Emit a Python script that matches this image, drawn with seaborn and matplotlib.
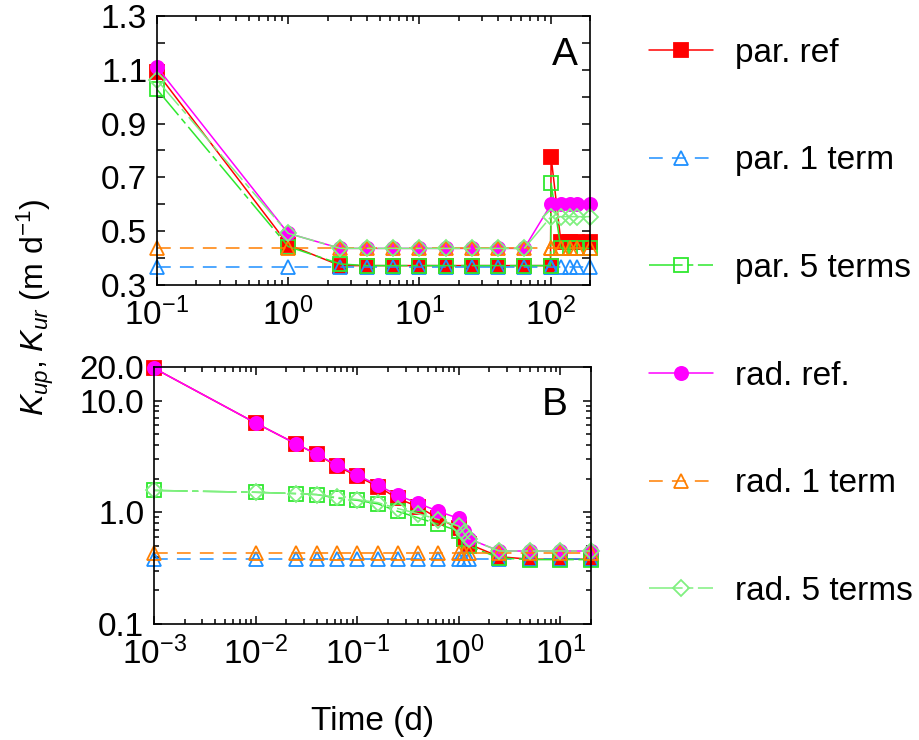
import numpy as np
import matplotlib
matplotlib.use("Agg")
import matplotlib.pyplot as plt
import matplotlib.ticker as mticker
import seaborn as sns

# ---- data ------------------------------------------------------------
# panel A (time in d)
t_a = [0.1, 1, 2.5, 4, 6.3, 10, 16, 25, 40, 63, 100, 101, 120, 140, 160, 200]
par_ref_a = [1.09, 0.45, 0.372, 0.372, 0.372, 0.372, 0.372, 0.372, 0.372, 0.372, 0.372,
             0.777, 0.46, 0.46, 0.46, 0.46]
par_1_a = [0.365] * 16
par_5_a = [1.027, 0.443, 0.378, 0.372, 0.372, 0.372, 0.372, 0.372, 0.372, 0.372, 0.372,
           0.678, 0.436, 0.436, 0.436, 0.436]
rad_ref_a = [1.11, 0.492, 0.436, 0.436, 0.436, 0.436, 0.436, 0.436, 0.436, 0.436, np.nan,
             0.60, 0.60, 0.60, 0.60, 0.60]
rad_1_a = [0.436] * 16
rad_5_a = [1.062, 0.492, 0.436, 0.436, 0.436, 0.436, 0.436, 0.436, 0.436, 0.436, np.nan,
           0.554, 0.554, 0.554, 0.554, 0.554]

# panel B
t_b = [0.001, 0.01, 0.025, 0.04, 0.063, 0.1, 0.16, 0.25, 0.4, 0.63, 1.0, 1.12, 1.25, 2.5, 5, 10, 20]
par_ref_b = [19.5, 6.3, 4.1, 3.3, 2.6, 2.1, 1.7, 1.33, 1.12, 0.88, 0.72, 0.58, 0.52, 0.40, 0.38, 0.38, 0.38]
par_1_b = [0.38] * 17
par_5_b = [1.57, 1.51, 1.47, 1.44, 1.34, 1.28, 1.19, 1.02, 0.89, 0.78, 0.68, 0.58, 0.50, 0.39, 0.377, 0.377, 0.377]
rad_ref_b = [19.5, 6.3, 4.1, 3.3, 2.65, 2.15, 1.75, 1.42, 1.2, 1.02, 0.88, 0.68, 0.58, 0.45, 0.45, 0.45, 0.45]
rad_1_b = [0.43] * 17
rad_5_b = [1.57, 1.51, 1.47, 1.44, 1.36, 1.30, 1.22, 1.08, 0.97, 0.86, 0.75, 0.65, 0.58, 0.45, 0.45, 0.45, 0.45]

labels = ["par. ref", "par. 1 term", "par. 5 terms", "rad. ref.", "rad. 1 term", "rad. 5 terms"]

# ---- styles ------------------------------------------------------------
dashed = (0, (9, 6))
dashdot = (0, (22, 3, 4, 3))
styles = [
    dict(color="#ff0000", marker="s", ls="-", mfc="#ff0000"),
    dict(color="#1e90ff", marker="^", ls=dashed, mfc="none"),
    dict(color="#2ee82e", marker="s", ls=dashdot, mfc="none"),
    dict(color="#ff00ff", marker="o", ls="-", mfc="#ff00ff"),
    dict(color="#ff7f00", marker="^", ls=dashed, mfc="none"),
    dict(color="#80f080", marker="D", ls=dashdot, mfc="none"),
]

sns.set_style("ticks")
plt.rcParams["font.family"] = ["Liberation Sans", "DejaVu Sans"]
plt.rcParams["mathtext.fontset"] = "custom"
plt.rcParams["mathtext.rm"] = "Liberation Sans"
plt.rcParams["mathtext.it"] = "Liberation Sans:italic"
plt.rcParams["axes.unicode_minus"] = False
plt.rcParams["text.color"] = "black"
plt.rcParams["axes.labelcolor"] = "black"

fig = plt.figure(figsize=(9.19, 7.40), dpi=100)
axA = fig.add_axes([0.1708, 0.6149, 0.4712, 0.3635])
axB = fig.add_axes([0.1676, 0.1568, 0.4755, 0.3473])


def draw(ax, t, series):
    ax.set_xscale("log")
    for y, lab, st in zip(series, labels, styles):
        ms = 8 if st["marker"] == "D" else 9.5
        sns.lineplot(x=t, y=y, ax=ax, label=lab, sort=False, errorbar=None,
                     color=st["color"], linestyle=st["ls"], lw=1.1,
                     marker=st["marker"], markersize=ms, mfc=st["mfc"],
                     mec=st["color"], mew=1.3, clip_on=False)
    ax.get_legend().remove()
    for s in ax.spines.values():
        s.set_linewidth(1.2)
        s.set_color("black")
    ax.tick_params(which="both", direction="in", top=True, right=True,
                   labelsize=24, width=1.1, pad=7, colors="black")
    ax.tick_params(axis="x", which="both", pad=9)
    ax.tick_params(which="major", length=6)
    ax.tick_params(which="minor", length=3.5)


draw(axA, t_a, [par_ref_a, par_1_a, par_5_a, rad_ref_a, rad_1_a, rad_5_a])
draw(axB, t_b, [par_ref_b, par_1_b, par_5_b, rad_ref_b, rad_1_b, rad_5_b])

# panel A axes
axA.set_xlim(0.1, 200)
axA.set_ylim(0.3, 1.3)
axA.yaxis.set_major_locator(mticker.FixedLocator([0.3, 0.5, 0.7, 0.9, 1.1, 1.3]))
axA.yaxis.set_major_formatter(mticker.FormatStrFormatter("%.1f"))
axA.yaxis.set_minor_locator(mticker.FixedLocator([0.4, 0.6, 0.8, 1.0, 1.2]))
axA.tick_params(axis="y", which="minor", length=6)
axA.xaxis.set_major_locator(mticker.LogLocator(base=10))
axA.xaxis.set_minor_locator(mticker.LogLocator(base=10, subs=np.arange(2, 10)))
axA.xaxis.set_major_formatter(mticker.LogFormatterSciNotation())
axA.xaxis.set_minor_formatter(mticker.NullFormatter())
axA.set_xlabel("")
axA.set_ylabel("")
axA.text(0.942, 0.855, "A", transform=axA.transAxes, fontsize=28,
         ha="center", va="center")

# panel B axes
axB.set_yscale("log")
axB.set_xlim(0.001, 20)
axB.set_ylim(0.1, 20)
axB.xaxis.set_major_locator(mticker.LogLocator(base=10))
axB.xaxis.set_minor_locator(mticker.LogLocator(base=10, subs=np.arange(2, 10)))
axB.xaxis.set_major_formatter(mticker.LogFormatterSciNotation())
axB.xaxis.set_minor_formatter(mticker.NullFormatter())
axB.yaxis.set_major_locator(mticker.FixedLocator([0.1, 1.0, 10.0, 20.0]))
axB.yaxis.set_major_formatter(mticker.FixedFormatter(["0.1", "1.0", "10.0", "20.0"]))
axB.yaxis.set_minor_locator(mticker.LogLocator(base=10, subs=np.arange(2, 10)))
axB.yaxis.set_minor_formatter(mticker.NullFormatter())
axB.set_xlabel("")
axB.set_ylabel("")
axB.text(0.918, 0.852, "B", transform=axB.transAxes, fontsize=28,
         ha="center", va="center")

fig.text(0.038, 0.585, r"$K_{up}$, $K_{ur}$ (m d$^{-1}$)", rotation=90,
         fontsize=23, ha="center", va="center")
fig.text(0.405, 0.025, "Time (d)", fontsize=24, ha="center", va="center")

handles, labs = axA.get_legend_handles_labels()
fig.legend(handles, labs, loc="upper left", bbox_to_anchor=(0.706, 0.949),
           frameon=False, fontsize=24, handlelength=1.92, handletextpad=0.66,
           labelspacing=2.3, borderpad=0, borderaxespad=0)

fig.savefig("out.png", dpi=100)
